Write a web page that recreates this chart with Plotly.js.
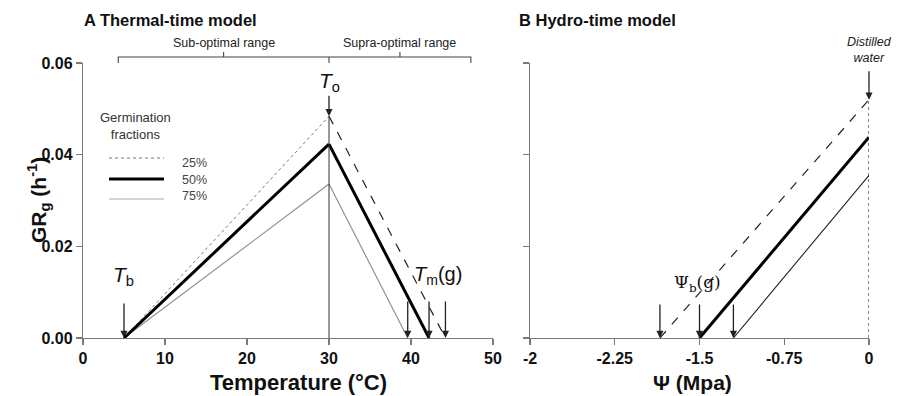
<!DOCTYPE html>
<html><head><meta charset="utf-8">
<script src="https://cdn.plot.ly/plotly-3.0.1.min.js"></script>
<style>html,body{margin:0;padding:0;background:#fff}#chart{width:898px;height:396px}</style>
</head><body><div id="chart"></div>
<script>
// ---- Data: A Thermal-time model ----
const tempRise = [5, 30];              // T_b -> T_o (°C)
const g25Rise = [0, 0.0484];
const g50Rise = [0, 0.0423];
const g75Rise = [0, 0.0336];
const temp25Fall = [30, 44.2];         // T_o -> T_m(g)
const temp50Fall = [30, 42.2];
const temp75Fall = [30, 39.6];
const g25Fall = [0.0484, 0];
const g50Fall = [0.0423, 0];
const g75Fall = [0.0336, 0];
const Tb = 5, To = 30;
const TmArrows = [39.6, 42.2, 44.2];

// ---- Data: B Hydro-time model ----
const psi25 = [-1.85, 0];
const psi50 = [-1.5, 0];
const psi75 = [-1.2, 0];
const h25 = [0, 0.052];
const h50 = [0, 0.0438];
const h75 = [0, 0.0355];
const psiArrows = [-1.85, -1.5, -1.2];

const xTempTicks = [0, 10, 20, 30, 40, 50];
const yTicks = [0, 0.02, 0.04, 0.06];
const yTickText = ['0.00', '0.02', '0.04', '0.06'];
const psiTickVals = [-3, -2.25, -1.5, -0.75, 0];
const psiTickText = ['-2', '-2.25', '-1.5', '-0.75', '0'];
const legendLabels = ['25%', '50%', '75%'];

const W = 898, H = 396;
const dA = [83 / W, 493 / W], dB = [530 / W, 869 / W];
const dY = [1 - 338 / H, 1 - 63 / H];
const rA = [0, 50], rB = [-3, 0], rY = [0, 0.06];
const pxA = v => (dA[0] + (v - rA[0]) / (rA[1] - rA[0]) * (dA[1] - dA[0]));
const pyPix = p => 1 - p / H;
const pxPix = p => p / W;

const axGray = '#7a7a7a';
const tickFont = {family: 'Liberation Sans, Arial', size: 16, color: '#111', weight: 'bold'};

const traces = [
  {x: tempRise, y: g25Rise, mode: 'lines', line: {color: '#777', width: 1, dash: 'dot'}, xaxis: 'x', yaxis: 'y'},
  {x: temp25Fall, y: g25Fall, mode: 'lines', line: {color: '#222', width: 1.2, dash: 'dash'}, xaxis: 'x', yaxis: 'y'},
  {x: tempRise, y: g75Rise, mode: 'lines', line: {color: '#8a8a8a', width: 1.1}, xaxis: 'x', yaxis: 'y'},
  {x: temp75Fall, y: g75Fall, mode: 'lines', line: {color: '#8a8a8a', width: 1.1}, xaxis: 'x', yaxis: 'y'},
  {x: tempRise, y: g50Rise, mode: 'lines', line: {color: '#000', width: 3}, xaxis: 'x', yaxis: 'y'},
  {x: temp50Fall, y: g50Fall, mode: 'lines', line: {color: '#000', width: 3}, xaxis: 'x', yaxis: 'y'},
  {x: psi25, y: h25, mode: 'lines', line: {color: '#222', width: 1.2, dash: 'dash'}, xaxis: 'x2', yaxis: 'y2'},
  {x: psi75, y: h75, mode: 'lines', line: {color: '#222', width: 1.1}, xaxis: 'x2', yaxis: 'y2'},
  {x: psi50, y: h50, mode: 'lines', line: {color: '#000', width: 3}, xaxis: 'x2', yaxis: 'y2'}
];

const annotations = [];
const shapes = [];
function label(xref, yref, x, y, text, font, extra) {
  annotations.push(Object.assign({xref, yref, x, y, text, font, showarrow: false, xanchor: 'center', yanchor: 'middle'}, extra || {}));
}
const F = 'Liberation Sans, Arial';

// Titles
label('paper', 'paper', pxPix(82), pyPix(20), '<b>A Thermal-time model</b>', {family: F, size: 16.5, color: '#111'}, {xanchor: 'left'});
label('paper', 'paper', pxPix(517), pyPix(20), '<b>B Hydro-time model</b>', {family: F, size: 16.5, color: '#111'}, {xanchor: 'left'});

// Axis titles
label('paper', 'paper', pxPix(298), pyPix(382), '<b>Temperature (°C)</b>', {family: F, size: 22, color: '#111'});
label('paper', 'paper', pxPix(692), pyPix(382), '<b>Ψ (Mpa)</b>', {family: F, size: 21, color: '#111'});
label('paper', 'paper', pxPix(38), pyPix(200), '<b>GR<sub>g</sub> (h<sup>-1</sup>)</b>', {family: F, size: 21, color: '#111'}, {textangle: -90});

// Bracket (sub / supra optimal range)
const bL = pxA(4.3), bM = pxA(To), bR = pxA(47.3);
const yB = pyPix(57), yBend = pyPix(63), yBup = pyPix(52);
const bq1 = (bL + bM) / 2, bq2 = (bM + bR) / 2;
shapes.push({type: 'path', xref: 'paper', yref: 'paper', line: {color: '#444', width: 1.1},
  path: `M${bL},${yBend} L${bL},${yB} L${bR},${yB} L${bR},${yBend} M${bM},${yB} L${bM},${yBend} M${bq1},${yB} L${bq1},${yBup} M${bq2},${yB} L${bq2},${yBup}`});
label('paper', 'paper', bq1, pyPix(43), 'Sub-optimal range', {family: F, size: 12.5, color: '#222'});
label('paper', 'paper', bq2, pyPix(43), 'Supra-optimal range', {family: F, size: 12.5, color: '#222'});

// Vertical line at T_o
shapes.push({type: 'line', xref: 'x', yref: 'y', x0: To, x1: To, y0: 0, y1: g25Rise[1], line: {color: '#333', width: 1}});
// Vertical dotted at distilled water
shapes.push({type: 'line', xref: 'x2', yref: 'y2', x0: 0, x1: 0, y0: 0, y1: h25[1], line: {color: '#333', width: 1.2, dash: 'dot'}});

// Arrows
function arrow(xref, yref, x, y, len) {
  annotations.push({xref, yref, x, y, ax: 0, ay: -len, text: '', showarrow: true, arrowhead: 2, arrowsize: 1.1, arrowwidth: 1.3, arrowcolor: '#222', standoff: 0});
}
arrow('x', 'y', Tb, 0, 36);
TmArrows.forEach(t => arrow('x', 'y', t, 0, 38));
arrow('x', 'y', To, g25Rise[1], 22);
psiArrows.forEach(p => arrow('x2', 'y2', p, 0, 35));
arrow('x2', 'y2', 0, h25[1], 30);

// Labels
const lblFont = {family: F, size: 21, color: '#111'};
label('paper', 'paper', pxPix(124), pyPix(276), '<i>T</i><sub>b</sub>', lblFont);
label('x', 'paper', To, pyPix(82), '<i>T</i><sub>o</sub>', lblFont);
label('paper', 'paper', pxPix(438), pyPix(275), '<i>T</i><sub>m</sub>(g)', {family: F, size: 20, color: '#111'});
label('paper', 'paper', pxPix(697), pyPix(283), 'Ψ<sub>b</sub>(g)', {family: 'DejaVu Serif, serif', size: 17, color: '#111'});
label('x2', 'paper', 0, pyPix(50), '<i>Distilled</i><br><i>water</i>', {family: F, size: 12.5, color: '#222'});

// Legend (custom)
label('paper', 'paper', pxPix(135), pyPix(126), 'Germination<br>fractions', {family: F, size: 13, color: '#333'});
const legStyles = [
  {color: '#777', width: 1, dash: 'dot'},
  {color: '#000', width: 3, dash: 'solid'},
  {color: '#aaa', width: 1.1, dash: 'solid'}
];
const legY = [158, 179, 199];
const legTextY = [163, 180, 196];
legendLabels.forEach((lab, i) => {
  shapes.push({type: 'line', xref: 'paper', yref: 'paper', x0: pxPix(109), x1: pxPix(164), y0: pyPix(legY[i]), y1: pyPix(legY[i]), line: legStyles[i]});
  label('paper', 'paper', pxPix(180), pyPix(legTextY[i]), lab, {family: F, size: 12.5, color: '#444'}, {xanchor: 'left'});
});

const baseAxis = {showgrid: false, zeroline: false, showline: true, linecolor: axGray, linewidth: 1.2,
  ticks: 'outside', ticklen: 6, tickcolor: axGray, tickwidth: 1.2, tickfont: tickFont, fixedrange: true};

const layout = {
  width: W, height: H, margin: {l: 0, r: 0, t: 0, b: 0},
  paper_bgcolor: '#fff', plot_bgcolor: '#fff', showlegend: false,
  xaxis: Object.assign({}, baseAxis, {domain: dA, range: rA, tickvals: xTempTicks, anchor: 'y'}),
  yaxis: Object.assign({}, baseAxis, {domain: dY, range: rY, tickvals: yTicks, ticktext: yTickText, anchor: 'x'}),
  xaxis2: Object.assign({}, baseAxis, {domain: dB, range: rB, tickvals: psiTickVals, ticktext: psiTickText, anchor: 'y2'}),
  yaxis2: Object.assign({}, baseAxis, {domain: dY, range: rY, tickvals: yTicks, showticklabels: false, anchor: 'x2'}),
  annotations, shapes
};

Plotly.newPlot('chart', traces, layout, {displayModeBar: false, staticPlot: true});
</script></body></html>
